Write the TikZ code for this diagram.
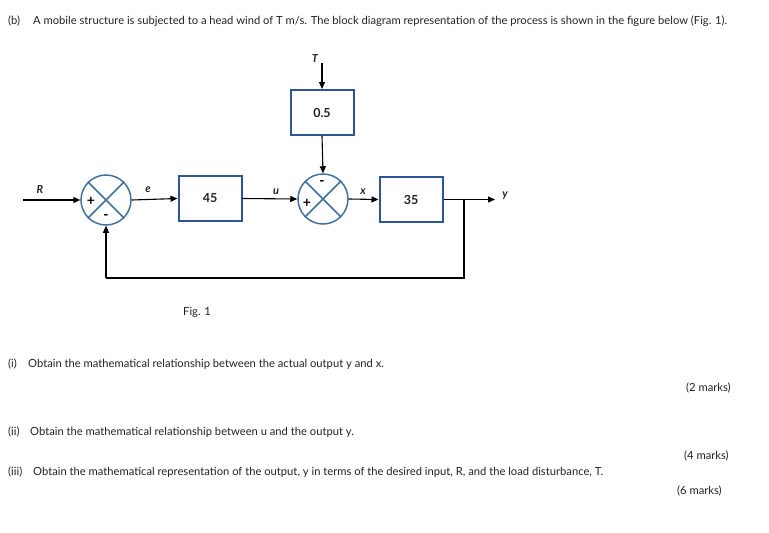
\documentclass[tikz,border=0pt]{standalone}
\usepackage{fontspec}
\setmainfont{Lato}
\usetikzlibrary{arrows.meta}
\definecolor{boxblue}{HTML}{2F5597}
\definecolor{sumblue}{HTML}{41719C}
\definecolor{txt}{HTML}{222222}
\tikzset{
  blk/.style={draw=boxblue, line width=2pt, minimum width=63pt, minimum height=45pt, inner sep=0pt, font=\fontsize{12.5}{13}\selectfont\bfseries, text=txt},
  sumj/.style={draw=sumblue, line width=1.5pt, circle, minimum size=50pt, inner sep=0pt},
  sig/.style={line width=1.1pt, -{Triangle[length=7pt,width=6pt]}},
  wire/.style={line width=1.1pt},
  lbl/.style={font=\fontsize{11}{12}\selectfont\bfseries\itshape, inner sep=0pt, text=txt},
  sgn/.style={font=\fontsize{14}{14}\selectfont\bfseries, inner sep=0pt},
  para/.style={font=\fontsize{11.2}{13}\selectfont, text=txt, inner sep=0pt, anchor=west},
}
\begin{document}
\begin{tikzpicture}[x=1pt,y=-1pt]
\useasboundingbox (0,0) rectangle (769,533);
% texts
\node[para] (tb) at (8,21) {(b)};
\node[para] (t0) at (33,21) {A mobile structure is subjected to a head wind of T m/s. The block diagram representation of the process is shown in the figure below (Fig. 1).};
\node[para] (fig) at (183,312) {Fig. 1};
\node[para] (q1n) at (8,364) {(i)};
\node[para] (q1) at (28,364) {Obtain the mathematical relationship between the actual output y and x.};
\node[para] (m1) at (686,388) {(2 marks)};
\node[para] (q2n) at (8,432) {(ii)};
\node[para] (q2) at (30,432) {Obtain the mathematical relationship between u and the output y.};
\node[para] (m2) at (684,456) {(4 marks)};
\node[para] (q3n) at (8,472) {(iii)};
\node[para] (q3) at (33,472) {Obtain the mathematical representation of the output, y in terms of the desired input, R, and the load disturbance, T.};
\node[para] (m3) at (677,491) {(6 marks)};
% diagram
\node[sumj] (s1) at (106,200) {};
\node[sumj] (s2) at (323,199) {};
\foreach \s in {s1,s2}{
  \draw[sumblue, line width=1.5pt] (\s.north west) -- (\s.south east);
  \draw[sumblue, line width=1.5pt] (\s.north east) -- (\s.south west);
}
\node[blk] (g45) at (210,198.5) {45};
\node[blk] (g05) at (322,112.5) {0.5};
\node[blk] (g35) at (411,199.5) {35};
\coordinate (rin) at (23,200);
\coordinate (tin) at (322,63);
\coordinate (br) at (464,199.5);
\coordinate (yout) at (495,199.5);
\coordinate (fb1) at (464,278);
\coordinate (fb2) at (106,278);
\draw[sig] (rin) -- (s1.west);
\draw[sig] (s1.east) -- (g45.west);
\draw[sig] (g45.east) -- (s2.west);
\draw[sig] (tin) -- (g05.north);
\draw[sig] (g05.south) -- (s2.north);
\draw[sig] (s2.east) -- (g35.west);
\draw[sig] (g35.east) -- (yout);
\draw[wire] (br) -- (fb1) -- (fb2);
\draw[sig] (fb2) -- (s1.south);
% labels
\node[lbl] (lR) at (40,190) {R};
\node[lbl] (le) at (148,190) {e};
\node[lbl] (lu) at (276,192) {u};
\node[lbl] (lx) at (363,192) {x};
\node[lbl] (lT) at (315,59) {T};
\node[lbl] (ly) at (505,196) {y};
\node[sgn] (p1) at (91,201) {+};
\node[sgn] (n1) at (106,217) {-};
\node[sgn] (p2) at (307,203) {+};
\node[sgn] (n2) at (322,183) {-};
\end{tikzpicture}
\end{document}
